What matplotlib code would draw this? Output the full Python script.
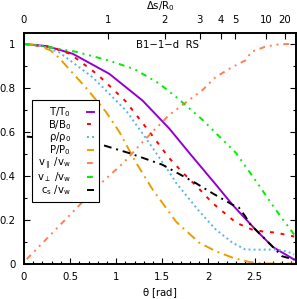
import matplotlib
matplotlib.use("Agg")
import matplotlib.pyplot as plt
from matplotlib.ticker import MultipleLocator, FixedLocator

plt.rcParams['font.family'] = ['DejaVu Sans']
plt.rcParams['mathtext.default'] = 'regular'
FS = 7.3

# ---- data ----
th_T = [0.0, 0.25, 0.53, 0.925, 1.286, 1.575, 1.8, 2.08, 2.26, 2.51, 2.7, 2.93]
T = [1.0, 0.99, 0.955, 0.864, 0.742, 0.615, 0.50, 0.36, 0.268, 0.155, 0.075, 0.018]

th_B = [0.0, 0.3, 0.5, 0.8, 1.1, 1.36, 1.575, 1.72, 1.9, 2.04, 2.3, 2.47, 2.6, 2.73, 2.85, 2.93]
B = [1.0, 0.985, 0.955, 0.86, 0.74, 0.60, 0.48, 0.415, 0.34, 0.277, 0.186, 0.155, 0.145, 0.141, 0.13, 0.123]

th_rho = [0.0, 0.2, 0.38, 0.745, 1.106, 1.34, 1.593, 1.65, 1.9, 2.08, 2.26, 2.4, 2.55, 2.73, 2.85, 2.93]
rho = [1.0, 0.99, 0.962, 0.848, 0.697, 0.56, 0.405, 0.367, 0.238, 0.155, 0.095, 0.064, 0.063, 0.064, 0.055, 0.041]

th_P = [0.0, 0.15, 0.29, 0.384, 0.49, 0.673, 0.89, 1.033, 1.2, 1.39, 1.65, 1.9, 2.08, 2.26, 2.45, 2.6, 2.93]
P = [1.0, 0.995, 0.97, 0.935, 0.885, 0.8, 0.69, 0.6, 0.47, 0.34, 0.19, 0.095, 0.056, 0.027, 0.006, 0.0, 0.0]

th_vpar = [0.03, 0.536, 0.82, 1.077, 1.3, 1.575, 1.935, 2.08, 2.26, 2.40, 2.47, 2.62, 2.77, 2.93]
vpar = [0.02, 0.238, 0.36, 0.458, 0.56, 0.677, 0.79, 0.85, 0.895, 0.925, 0.965, 0.988, 0.999, 1.0]

th_vperp = [0.0, 0.17, 0.38, 0.56, 0.925, 1.2, 1.466, 1.66, 1.935, 2.30, 2.53, 2.73, 2.93]
vperp = [1.0, 0.995, 0.977, 0.965, 0.924, 0.885, 0.82, 0.755, 0.655, 0.503, 0.367, 0.245, 0.132]

th_cs = [0.03, 0.4, 0.85, 1.14, 1.5, 1.86, 2.04, 2.26, 2.33, 2.40, 2.45, 2.62, 2.80, 2.93]
cs = [0.578, 0.565, 0.54, 0.503, 0.45, 0.367, 0.321, 0.268, 0.255, 0.215, 0.18, 0.109, 0.033, 0.018]

labels = ["T/T$_0$", "B/B$_0$", r"$\rho$/$\rho_0$", "P/P$_0$",
          r"v$_{\parallel}$ /v$_w$", r"v$_{\perp}$ /v$_w$", "c$_s$ /v$_w$"]

top_tick_theta = [0.0, 0.912, 1.528, 1.906, 2.138, 2.288, 2.625, 2.832]
top_tick_labels = ["0", "1", "2", "3", "4", "5", "10", "20"]

x_ticks = [0, 0.5, 1, 1.5, 2, 2.5]
x_ticklabels = ["0", "0.5", "1", "1.5", "2", "2.5"]
y_ticks = [0, 0.2, 0.4, 0.6, 0.8, 1.0]
y_ticklabels = ["0", "0.2", "0.4", "0.6", "0.8", "1"]

# ---- figure ----
fig = plt.figure(figsize=(2.97, 2.99), dpi=100)
ax = fig.add_axes([0.081, 0.1187, 0.9156, 0.7709])

lw = 1.4
ax.plot(th_T, T, color='#9400d3', lw=lw, ls='-', label=labels[0])
ax.plot(th_B, B, color='#ff0000', lw=lw, dashes=(2, 3.5), label=labels[1])
ax.plot(th_rho, rho, color='#56b4e9', lw=lw, dashes=(1, 1.6), label=labels[2])
ax.plot(th_P, P, color='#e69f00', lw=lw, dashes=(5, 2.5, 1, 2.5), label=labels[3])
ax.plot(th_vpar, vpar, color='#ff7f50', lw=lw, dashes=(3, 2.5, 1, 2.5, 1, 2.5), label=labels[4])
ax.plot(th_vperp, vperp, color='#00ee00', lw=lw, dashes=(3, 2.5, 1, 2.5, 1, 2.5), label=labels[5])
ax.plot(th_cs, cs, color='black', lw=lw, dashes=(4, 2.5, 1, 2.5), label=labels[6])

ax.set_xlim(0, 2.95)
ax.set_ylim(0, 1.05)
ax.xaxis.set_major_locator(FixedLocator(x_ticks))
ax.set_xticklabels(x_ticklabels)
ax.xaxis.set_minor_locator(MultipleLocator(0.1))
ax.yaxis.set_major_locator(FixedLocator(y_ticks))
ax.set_yticklabels(y_ticklabels)
ax.yaxis.set_minor_locator(MultipleLocator(0.1))
ax.tick_params(which='both', direction='in', right=True, top=False, labelsize=FS, width=0.8)
ax.tick_params(which='major', length=4, pad=6)
ax.tick_params(which='minor', length=2)
for s in ax.spines.values():
    s.set_linewidth(1.2)

ax.set_xlabel(r"$\theta$ [rad]", fontsize=FS, labelpad=3)

ax2 = ax.twiny()
ax2.set_xlim(ax.get_xlim())
ax2.xaxis.set_major_locator(FixedLocator(top_tick_theta))
ax2.set_xticklabels(top_tick_labels)
ax2.xaxis.set_minor_locator(FixedLocator([]))
ax2.tick_params(which='both', direction='in', labelsize=FS, length=4, width=0.8, pad=6)
ax2.set_xlabel("Δs/R$_0$", fontsize=FS, labelpad=4)
for s in ax2.spines.values():
    s.set_linewidth(1.2)

ax.text(0.528, 0.948, "B1\u22121\u2212d  RS", transform=ax.transAxes,
        ha='center', va='center', fontsize=FS)

leg = ax.legend(loc='upper left', bbox_to_anchor=(0.028, 0.709), borderaxespad=0,
                markerfirst=False, fontsize=FS, handlelength=0.7, handletextpad=1.6,
                labelspacing=-0.12, borderpad=0.5, fancybox=False, framealpha=1,
                edgecolor='black')
leg.get_frame().set_linewidth(0.8)

fig.savefig("out.png", dpi=100)
